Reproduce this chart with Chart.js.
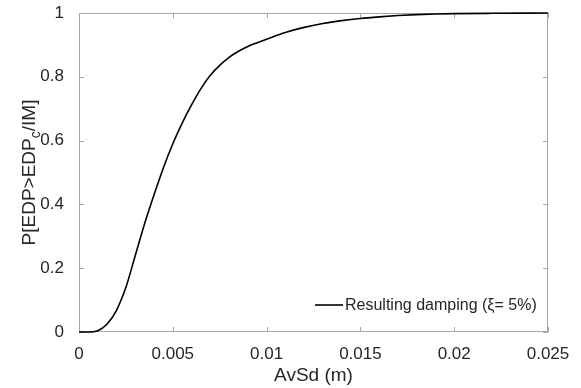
<!DOCTYPE html>
<html>
<head>
<meta charset="utf-8">
<script src="https://cdn.jsdelivr.net/npm/chart.js@4"></script>
<style>
  html, body { margin: 0; padding: 0; background: #fff; }
  #wrap { width: 581px; height: 388px; }
</style>
</head>
<body>
<div id="wrap"><canvas id="chart" width="581" height="388"></canvas></div>
<script>
// DATA
let avsd = [0, 0.0005, 0.001, 0.0015, 0.002, 0.0025, 0.003, 0.0035, 0.004, 0.0045,
    0.005, 0.0055, 0.006, 0.0065, 0.007, 0.0075, 0.008, 0.0085, 0.009, 0.0095,
    0.01, 0.011, 0.012, 0.013, 0.014, 0.015, 0.016, 0.017, 0.018, 0.019,
    0.02, 0.022, 0.025];
let prob = [0, 0, 0.004, 0.025, 0.068, 0.14, 0.24, 0.34, 0.43, 0.515,
    0.59, 0.655, 0.712, 0.763, 0.805, 0.836, 0.861, 0.88, 0.895, 0.907,
    0.918, 0.939, 0.955, 0.967, 0.976, 0.983, 0.988, 0.992, 0.995, 0.997,
    0.998, 0.999, 1.0];
let seriesLabel = "Resulting damping (\u03BE= 5%)";
let xTitle = "AvSd (m)";

let fontFam = "'Liberation Sans', Arial, sans-serif";
let axisCol = "#a6a6a6";
let textCol = "#262626";

// FRAME + INSIDE TICKS
const frame = {
    id: "frame",
    beforeDatasetsDraw(chart) {
        let { ctx, chartArea: a, scales } = chart;
        let x = scales.x, y = scales.y;
        ctx.save();
        ctx.strokeStyle = axisCol;
        ctx.lineWidth = 1;
        ctx.strokeRect(a.left + 0.5, a.top + 0.5, a.right - a.left - 1, a.bottom - a.top - 1);
        ctx.beginPath();
        x.ticks.forEach(t => {
            let px = Math.round(x.getPixelForValue(t.value)) + 0.5;
            ctx.moveTo(px, a.bottom); ctx.lineTo(px, a.bottom - 5);
            ctx.moveTo(px, a.top); ctx.lineTo(px, a.top + 5);
        });
        y.ticks.forEach(t => {
            let py = Math.round(y.getPixelForValue(t.value)) + 0.5;
            ctx.moveTo(a.left, py); ctx.lineTo(a.left + 5, py);
            ctx.moveTo(a.right, py); ctx.lineTo(a.right - 5, py);
        });
        ctx.stroke();
        ctx.restore();
    },
    afterDraw(chart) {
        let { ctx, chartArea: a } = chart;
        ctx.save();
        ctx.fillStyle = textCol;

        // x title
        ctx.font = "19px " + fontFam;
        ctx.textAlign = "center";
        ctx.textBaseline = "middle";
        ctx.fillText(xTitle, (a.left + a.right) / 2, 376);

        // y title with subscript
        ctx.translate(28, (a.top + a.bottom) / 2);
        ctx.rotate(-Math.PI / 2);
        ctx.textBaseline = "alphabetic";
        ctx.textAlign = "left";
        let p1 = "P[EDP>EDP", sub = "c", p2 = "/IM]";
        ctx.font = "19px " + fontFam;
        let w1 = ctx.measureText(p1).width, w3 = ctx.measureText(p2).width;
        ctx.font = "14px " + fontFam;
        let w2 = ctx.measureText(sub).width;
        let x0 = -(w1 + w2 + w3) / 2;
        ctx.font = "19px " + fontFam;
        ctx.fillText(p1, x0, 7);
        ctx.font = "14px " + fontFam;
        ctx.fillText(sub, x0 + w1, 12);
        ctx.font = "19px " + fontFam;
        ctx.fillText(p2, x0 + w1 + w2, 7);
        ctx.restore();

        // legend
        ctx.save();
        let ds = chart.data.datasets[0];
        ctx.strokeStyle = ds.borderColor;
        ctx.lineWidth = ds.borderWidth;
        ctx.beginPath();
        ctx.moveTo(315, 305); ctx.lineTo(343, 305);
        ctx.stroke();
        ctx.fillStyle = textCol;
        ctx.font = "16px " + fontFam;
        ctx.textBaseline = "middle";
        ctx.fillText(ds.label, 345, 306);
        ctx.restore();
    }
};

new Chart(document.getElementById("chart"), {
    type: "scatter",
    data: {
        datasets: [{
            label: seriesLabel,
            data: avsd.map((v, i) => ({ x: v, y: prob[i] })),
            showLine: true,
            borderColor: "#000000",
            borderWidth: 1.6,
            pointRadius: 0,
            cubicInterpolationMode: "monotone",
            clip: false
        }]
    },
    options: {
        responsive: false,
        animation: false,
        layout: { padding: { left: 0, right: 33, top: 13, bottom: 0 } },
        plugins: { legend: { display: false }, tooltip: { enabled: false } },
        scales: {
            x: {
                type: "linear",
                min: 0, max: 0.025,
                afterFit: s => { s.height = 56; s.paddingLeft = 0; s.paddingRight = 0; },
                grid: { display: false },
                border: { display: false },
                ticks: {
                    stepSize: 0.005,
                    padding: 4,
                    color: textCol,
                    font: { family: fontFam, size: 17 },
                    maxRotation: 0,
                    callback: v => String(+v.toFixed(3))
                }
            },
            y: {
                min: 0, max: 1,
                afterFit: s => { s.width = 79; s.paddingTop = 0; s.paddingBottom = 0; },
                grid: { display: false },
                border: { display: false },
                ticks: {
                    stepSize: 0.2,
                    padding: 7,
                    color: textCol,
                    font: { family: fontFam, size: 17 },
                    callback: v => String(+v.toFixed(1))
                }
            }
        }
    },
    plugins: [frame]
});
</script>
</body>
</html>
